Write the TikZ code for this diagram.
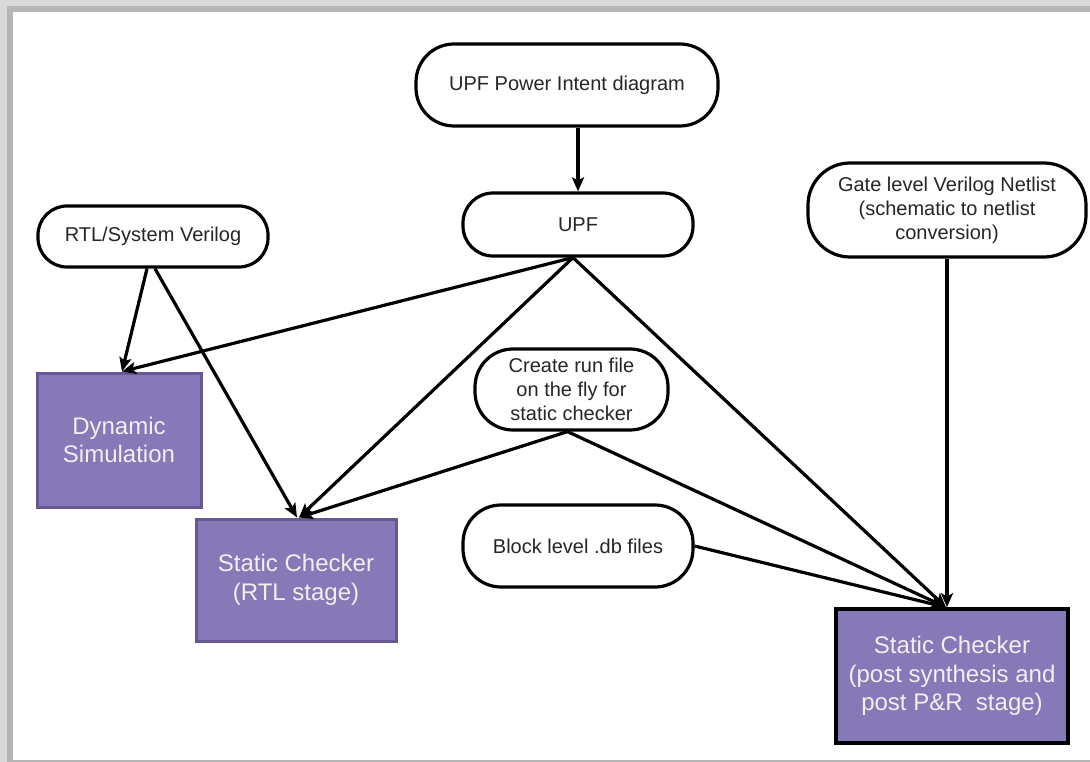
\documentclass[tikz,border=0pt]{standalone}
\usepackage{fontspec}
\setmainfont{Liberation Sans}
\usetikzlibrary{arrows.meta}

\definecolor{txt}{HTML}{262626}
\definecolor{boxpurple}{HTML}{8779B7}
\definecolor{boxedge}{HTML}{675892}
\definecolor{frameA}{HTML}{D9D9D9}
\definecolor{frameB}{HTML}{B5B5B5}

\tikzset{
  terminal/.style={draw=black, line width=3.2pt, rounded corners=#1, fill=white,
    text=txt, align=center, inner sep=0pt,
    font=\fontsize{20pt}{24pt}\selectfont},
  terminal/.default=30pt,
  stage/.style={draw=boxedge, line width=3pt, fill=boxpurple, text=white!94!black,
    align=center, inner sep=0pt, font=\fontsize{24pt}{28.5pt}\selectfont},
  flow/.style={line width=3.2pt, draw=black,
    -{Stealth[length=14pt, width=12pt, inset=3pt]}},
}

\begin{document}
\begin{tikzpicture}[x=1pt, y=-1pt]
  % page and its frame
  \useasboundingbox (0,0) rectangle (1090,762);
  \fill[white] (0,0) rectangle (1090,762);
  \fill[frameA] (0,0) rectangle (1090,6);
  \fill[frameA] (0,0) rectangle (7,762);
  \fill[frameB] (7,6) rectangle (1090,12);
  \fill[frameB] (7,6) rectangle (13,762);
  \fill[frameB] (13,759.5) rectangle (1090,761.5);

  % source nodes
  \node[terminal=38pt, minimum width=302pt, minimum height=82pt] (upfpi) at (567,85) {UPF Power Intent diagram};
  \node[terminal=30pt, minimum width=230pt, minimum height=63pt] (upf) at (578,224.5) {UPF};
  \node[terminal=29pt, minimum width=230pt, minimum height=61pt] (rtl) at (153,236.5) {RTL/System Verilog};
  \node[terminal=42pt, minimum width=278pt, minimum height=94pt] (gate) at (947,210) {Gate level Verilog Netlist\\(schematic to netlist\\conversion)};
  \node[terminal=38pt, minimum width=193pt, minimum height=81pt] (create) at (571.5,389.5) {Create run file\\on the fly for\\static checker};
  \node[terminal=38pt, minimum width=230pt, minimum height=82pt] (block) at (578,546) {Block level .db files};

  % checker stages
  \node[stage, minimum width=164pt, minimum height=134pt] (dyn) at (119,440) {Dynamic\\Simulation};
  \node[stage, minimum width=200pt, minimum height=122pt] (scrtl) at (296,580) {Static Checker\\(RTL stage)};
  \node[stage, draw=black, line width=3.5pt, minimum width=232pt, minimum height=134pt] (scpost) at (952,676) {Static Checker\\(post synthesis and\\post P\&R~ stage)};

  % connections
  \draw[flow] (upfpi.south -| upf.north) -- (upf.north);
  \draw[flow] ([xshift=-6pt]rtl.south) -- ([xshift=3pt]dyn.north);
  \draw[flow] ([xshift=2pt]rtl.south) -- ([xshift=1pt]scrtl.north);
  \draw[flow] ([xshift=-5pt]upf.south) -- ([xshift=3pt]dyn.north);
  \draw[flow] ([xshift=-5pt]upf.south) -- ([xshift=3pt]scrtl.north);
  \draw[flow] ([xshift=-5pt]upf.south) -- ([xshift=-6pt]scpost.north);
  \draw[flow] ([xshift=-4pt]create.south) -- ([xshift=3pt]scrtl.north);
  \draw[flow] ([xshift=-4pt]create.south) -- ([xshift=-6pt]scpost.north);
  \draw[flow] (block.east) -- ([xshift=-6pt]scpost.north);
  \draw[flow] (gate.south) -- (gate.south |- scpost.north);
\end{tikzpicture}
\end{document}
